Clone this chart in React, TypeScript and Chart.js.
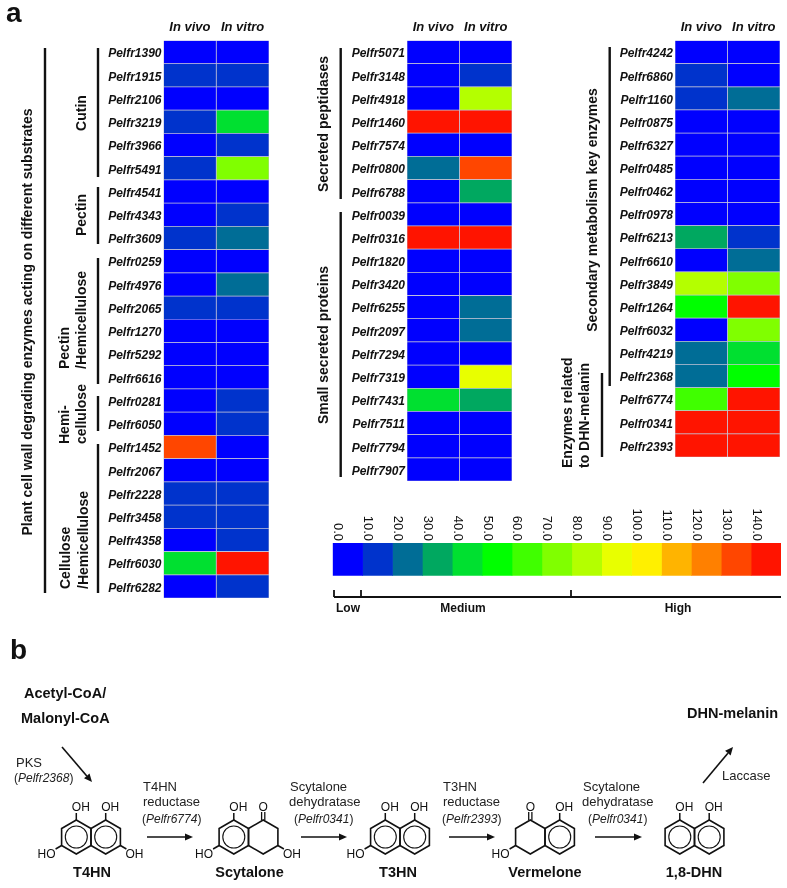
import React, { useEffect, useRef } from "react";
import { Chart, registerables } from "chart.js";

Chart.register(...registerables);

const conditions = ["In vivo", "In vitro"];

const genesA = ["Pelfr1390","Pelfr1915","Pelfr2106","Pelfr3219","Pelfr3966","Pelfr5491","Pelfr4541","Pelfr4343","Pelfr3609","Pelfr0259","Pelfr4976","Pelfr2065","Pelfr1270","Pelfr5292","Pelfr6616","Pelfr0281","Pelfr6050","Pelfr1452","Pelfr2067","Pelfr2228","Pelfr3458","Pelfr4358","Pelfr6030","Pelfr6282"];
const vivoA = [5,15,5,15,5,15,5,5,15,5,5,15,5,5,5,5,5,135,5,15,15,5,45,5];
const vitroA = [5,15,5,45,15,75,5,15,25,5,25,15,5,5,5,15,15,5,5,15,15,15,145,15];

const genesB = ["Pelfr5071","Pelfr3148","Pelfr4918","Pelfr1460","Pelfr7574","Pelfr0800","Pelfr6788","Pelfr0039","Pelfr0316","Pelfr1820","Pelfr3420","Pelfr6255","Pelfr2097","Pelfr7294","Pelfr7319","Pelfr7431","Pelfr7511","Pelfr7794","Pelfr7907"];
const vivoB = [5,5,5,145,5,25,5,5,145,5,5,5,5,5,5,45,5,5,5];
const vitroB = [5,15,85,145,5,135,35,5,145,5,5,25,25,5,95,35,5,5,5];

const genesC = ["Pelfr4242","Pelfr6860","Pelfr1160","Pelfr0875","Pelfr6327","Pelfr0485","Pelfr0462","Pelfr0978","Pelfr6213","Pelfr6610","Pelfr3849","Pelfr1264","Pelfr6032","Pelfr4219","Pelfr2368","Pelfr6774","Pelfr0341","Pelfr2393"];
const vivoC = [5,15,15,5,5,5,5,5,35,5,85,55,5,25,25,65,145,145];
const vitroC = [5,5,25,5,5,5,5,5,15,25,75,145,75,45,55,145,145,145];

const binStarts = [0,10,20,30,40,50,60,70,80,90,100,110,120,130,140];
const binPalette = ["#0000ff","#0033cc","#006d96","#00a860","#00e030","#00ff00","#40ff00","#80ff00","#b4ff00","#e8ff00","#fff000","#ffb400","#ff8000","#ff4600","#ff1400"];

const FONT = "'Liberation Sans', Arial, sans-serif";
const colorFor = (v: number) => binPalette[Math.min(14, Math.floor(v / 10))];

function useHeat(ref: any, genes: string[], vivo: number[], vitro: number[], axisW: number) {
  useEffect(() => {
    const mk = (label: string, vals: number[]) => ({
      label,
      data: vals.map(() => 1),
      backgroundColor: vals.map(colorFor),
      borderColor: "#c4c4d6",
      borderWidth: 0.7,
      borderSkipped: false,
      barPercentage: 1,
      categoryPercentage: 1,
    });
    const noPad = (s: any) => { s.paddingTop = 0; s.paddingBottom = 0; s.paddingLeft = 0; s.paddingRight = 0; };
    const chart = new Chart(ref.current, {
      type: "bar",
      data: { labels: genes, datasets: [mk(conditions[0], vivo), mk(conditions[1], vitro)] },
      options: {
        indexAxis: "y",
        animation: false,
        responsive: false,
        layout: { padding: { right: 3, bottom: 3 } },
        plugins: { legend: { display: false }, tooltip: { enabled: false } },
        scales: {
          x: {
            position: "top",
            stacked: true,
            min: 0,
            max: 2,
            grid: { display: false, drawTicks: false },
            border: { display: false },
            afterBuildTicks: (s: any) => { s.ticks = [{ value: 0.5 }, { value: 1.5 }]; },
            afterFit: (s: any) => { s.height = 40.5; noPad(s); },
            ticks: {
              autoSkip: false,
              maxRotation: 0,
              padding: 5,
              color: "#111",
              font: { family: FONT, size: 13, style: "italic", weight: "bold" },
              callback: (v: any) => conditions[Math.floor(Number(v))],
            },
          },
          y: {
            stacked: true,
            grid: { display: false, drawTicks: false },
            border: { display: false },
            afterFit: (s: any) => { s.width = axisW; noPad(s); },
            ticks: {
              autoSkip: false,
              padding: 2,
              labelOffset: 2,
              color: "#111",
              font: { family: FONT, size: 12, style: "italic", weight: "bold" },
            },
          },
        },
      },
    } as any);
    return () => chart.destroy();
  }, []);
}

function useBar(ref: any) {
  useEffect(() => {
    const labelPlugin = {
      id: "rotatedTicks",
      afterDraw(chart: any) {
        const s = chart.scales.x;
        const ctx = chart.ctx;
        ctx.save();
        ctx.font = `13px ${FONT}`;
        ctx.fillStyle = "#111";
        ctx.textAlign = "right";
        ctx.textBaseline = "middle";
        binStarts.forEach((b) => {
          ctx.save();
          ctx.translate(s.getPixelForValue(b) + 5, chart.chartArea.top - 2);
          ctx.rotate(Math.PI / 2);
          ctx.fillText(b.toFixed(1), 0, 0);
          ctx.restore();
        });
        ctx.restore();
      },
    };
    const chart = new Chart(ref.current, {
      type: "bar",
      data: {
        labels: ["scale"],
        datasets: binStarts.map((b, i) => ({
          label: String(b),
          data: [10],
          backgroundColor: binPalette[i],
          barPercentage: 1,
          categoryPercentage: 1,
        })),
      },
      options: {
        indexAxis: "y",
        animation: false,
        responsive: false,
        layout: { padding: { left: 10.7, right: 6, top: 38, bottom: 4.3 } },
        plugins: { legend: { display: false }, tooltip: { enabled: false } },
        scales: {
          x: { display: false, stacked: true, min: 0, max: 150 },
          y: { display: false, stacked: true },
        },
      },
      plugins: [labelPlugin],
    } as any);
    return () => chart.destroy();
  }, []);
}

const brackets = [
  [45,48,45,593],[98,48,98,177],[98,187,98,244],[98,258,98,384],[98,396,98,431],[98,444,98,593],
  [340.7,48,340.7,199],[340.7,212,340.7,477],[609.7,47,609.7,386],[602,373,602,457],
  [334,597,781,597],[334,590,334,597],[361,590,361,597],[571,590,571,597],
];

// rotated labels: text, x, y, anchor
const rotated: [string, number, number, string][] = [
  ["Plant cell wall degrading enzymes acting on different substrates", 32, 322, "middle"],
  ["Cutin", 86, 113, "middle"],
  ["Pectin", 86, 215, "middle"],
  ["Pectin", 69, 369, "start"],
  ["/Hemicellulose", 86, 369, "start"],
  ["Hemi-", 69, 444, "start"],
  ["cellulose", 86, 444, "start"],
  ["Cellulose", 70, 589, "start"],
  ["/Hemicellulose", 88, 589, "start"],
  ["Secreted peptidases", 328, 124, "middle"],
  ["Small secreted proteins", 328, 345, "middle"],
  ["Secondary metabolism key enzymes", 597, 210, "middle"],
  ["Enzymes related", 572, 468, "start"],
  ["to DHN-melanin", 589, 468, "start"],
];

const boldLabels: [string, number, number, number, string][] = [
  ["a", 6, 22, 28, "start"],
  ["b", 10, 659, 28, "start"],
  ["Low", 336, 612, 12, "start"],
  ["Medium", 463, 612, 12, "middle"],
  ["High", 678, 612, 12, "middle"],
  ["Acetyl-CoA/", 24, 698, 14.5, "start"],
  ["Malonyl-CoA", 21, 723, 14.5, "start"],
  ["DHN-melanin", 687, 718, 14.5, "start"],
  ["T4HN", 92, 877, 14.5, "middle"],
  ["Scytalone", 249.5, 877, 14.5, "middle"],
  ["T3HN", 398, 877, 14.5, "middle"],
  ["Vermelone", 545, 877, 14.5, "middle"],
  ["1,8-DHN", 694, 877, 14.5, "middle"],
];

const plainLabels: [string, number, number][] = [
  ["PKS", 16, 767],
  ["T4HN", 143, 791], ["reductase", 143, 806],
  ["Scytalone", 290, 791], ["dehydratase", 289, 806],
  ["T3HN", 443, 791], ["reductase", 443, 806],
  ["Scytalone", 583, 791], ["dehydratase", 582, 806],
  ["Laccase", 722, 780],
];
const geneNotes: [string, number, number][] = [
  ["Pelfr2368", 14, 782],
  ["Pelfr6774", 142, 823],
  ["Pelfr0341", 294, 823],
  ["Pelfr2393", 442, 823],
  ["Pelfr0341", 588, 823],
];
const arrows = [
  [62,747,92,782],[147,837,193,837],[301,837,347,837],[449,837,495,837],[595,837,642,837],[703,783,733,747],
];

function Arrow({ a }: { a: number[] }) {
  const [x1, y1, x2, y2] = a;
  const t = Math.atan2(y2 - y1, x2 - x1);
  const L = 8, W = 3.6;
  const bx = x2 - L * Math.cos(t), by = y2 - L * Math.sin(t);
  const p = `${x2},${y2} ${bx - W * Math.sin(t)},${by + W * Math.cos(t)} ${bx + W * Math.sin(t)},${by - W * Math.cos(t)}`;
  return (
    <g>
      <line x1={x1} y1={y1} x2={bx} y2={by} stroke="#111" strokeWidth={1.6} />
      <polygon points={p} fill="#111" />
    </g>
  );
}

const S = 17, W = 14.7, CY = 837;
function hexPts(cx: number) {
  return [[cx, CY - S], [cx + W, CY - S / 2], [cx + W, CY + S / 2], [cx, CY + S], [cx - W, CY + S / 2], [cx - W, CY - S / 2]]
    .map((p) => p.join(",")).join(" ");
}

type Mol = { x: number; la: boolean; ra: boolean; tl: "OH" | "O"; tr: "OH" | "O"; ll: boolean; lr: boolean };
const molecules: Mol[] = [
  { x: 91, la: true, ra: true, tl: "OH", tr: "OH", ll: true, lr: true },
  { x: 248.5, la: true, ra: false, tl: "OH", tr: "O", ll: true, lr: true },
  { x: 400, la: true, ra: true, tl: "OH", tr: "OH", ll: true, lr: false },
  { x: 545, la: false, ra: true, tl: "O", tr: "OH", ll: true, lr: false },
  { x: 694.5, la: true, ra: true, tl: "OH", tr: "OH", ll: false, lr: false },
];

function Sub({ cx, kind }: { cx: number; kind: "OH" | "O" }) {
  if (kind === "O") {
    return (
      <g>
        <line x1={cx - 1.6} y1={CY - S} x2={cx - 1.6} y2={CY - S - 8} stroke="#111" strokeWidth={1.3} />
        <line x1={cx + 1.6} y1={CY - S} x2={cx + 1.6} y2={CY - S - 8} stroke="#111" strokeWidth={1.3} />
        <text x={cx} y={811} textAnchor="middle" fontSize={12} fill="#111">O</text>
      </g>
    );
  }
  return (
    <g>
      <line x1={cx} y1={CY - S} x2={cx} y2={CY - S - 7} stroke="#111" strokeWidth={1.5} />
      <text x={cx - 4.5} y={811} fontSize={12} fill="#111">OH</text>
    </g>
  );
}

function Molecule({ m }: { m: Mol }) {
  const l = m.x - W, r = m.x + W;
  return (
    <g>
      <polygon points={hexPts(l)} fill="none" stroke="#111" strokeWidth={1.6} />
      <polygon points={hexPts(r)} fill="none" stroke="#111" strokeWidth={1.6} />
      {m.la && <circle cx={l} cy={CY} r={11} fill="none" stroke="#111" strokeWidth={1.1} />}
      {m.ra && <circle cx={r} cy={CY} r={11} fill="none" stroke="#111" strokeWidth={1.1} />}
      <Sub cx={l} kind={m.tl} />
      <Sub cx={r} kind={m.tr} />
      {m.ll && (
        <g>
          <line x1={l - W} y1={CY + S / 2} x2={l - W - 6} y2={CY + S / 2 + 3.5} stroke="#111" strokeWidth={1.5} />
          <text x={l - W - 6} y={858} textAnchor="end" fontSize={12} fill="#111">HO</text>
        </g>
      )}
      {m.lr && (
        <g>
          <line x1={r + W} y1={CY + S / 2} x2={r + W + 6} y2={CY + S / 2 + 3.5} stroke="#111" strokeWidth={1.5} />
          <text x={r + W + 5} y={858} fontSize={12} fill="#111">OH</text>
        </g>
      )}
    </g>
  );
}

export default function App() {
  const a = useRef<HTMLCanvasElement>(null);
  const b = useRef<HTMLCanvasElement>(null);
  const c = useRef<HTMLCanvasElement>(null);
  const d = useRef<HTMLCanvasElement>(null);
  useHeat(a, genesA, vivoA, vitroA, 63.5);
  useHeat(b, genesB, vivoB, vitroB, 64);
  useHeat(c, genesC, vivoC, vitroC, 65);
  useBar(d);
  const abs = (left: number, top: number) => ({ position: "absolute" as const, left, top });
  return (
    <div style={{ position: "absolute", left: 0, top: 0, width: 787, height: 888, background: "#fff", overflow: "hidden", fontFamily: FONT }}>
      <canvas ref={a} width={172} height={601} style={abs(100, 0)} />
      <canvas ref={b} width={172} height={484} style={abs(343, 0)} />
      <canvas ref={c} width={173} height={460} style={abs(610, 0)} />
      <canvas ref={d} width={465} height={75} style={abs(322, 505)} />
      <svg width={787} height={888} style={{ ...abs(0, 0), pointerEvents: "none" }} fontFamily={FONT}>
        {brackets.map((l, i) => (
          <line key={i} x1={l[0]} y1={l[1]} x2={l[2]} y2={l[3]} stroke="#111" strokeWidth={i >= 10 ? 1.8 : 2.4} />
        ))}
        {rotated.map(([t, x, y, an], i) => (
          <text key={i} transform={`translate(${x},${y}) rotate(-90)`} textAnchor={an as any} fontSize={14} fontWeight="bold" fill="#111">{t}</text>
        ))}
        {boldLabels.map(([t, x, y, fs, an], i) => (
          <text key={i} x={x} y={y} fontSize={fs} fontWeight="bold" textAnchor={an as any} fill="#111">{t}</text>
        ))}
        {plainLabels.map(([t, x, y], i) => (
          <text key={i} x={x} y={y} fontSize={13} fill="#222">{t}</text>
        ))}
        {geneNotes.map(([t, x, y], i) => (
          <text key={i} x={x} y={y} fontSize={12} fill="#222">(<tspan fontStyle="italic">{t}</tspan>)</text>
        ))}
        {arrows.map((ar, i) => <Arrow key={i} a={ar} />)}
        {molecules.map((m, i) => <Molecule key={i} m={m} />)}
      </svg>
    </div>
  );
}
